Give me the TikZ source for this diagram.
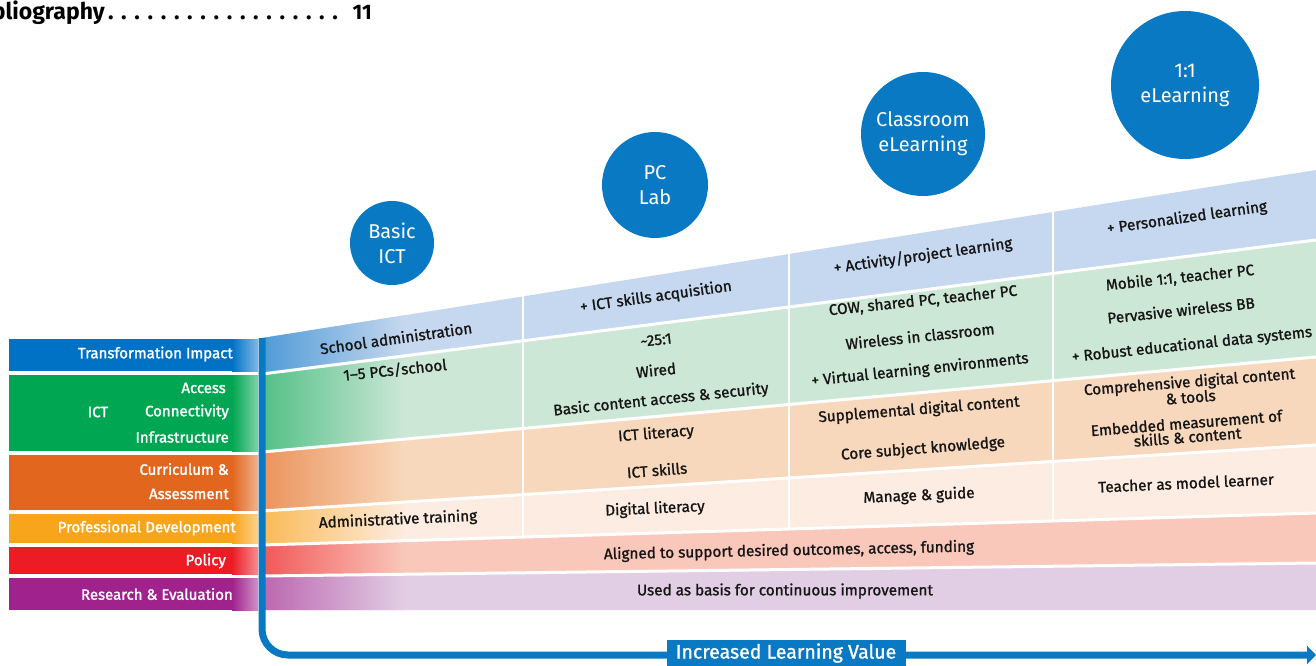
\documentclass[tikz,border=0pt]{standalone}
\usepackage{fontspec}
\setmainfont{Fira Sans}
\newfontfamily\medfont{Fira Sans}[FakeBold=1.2]
\newfontfamily\labfont{Fira Sans}[FakeBold=1.6]
\usetikzlibrary{arrows.meta}
\definecolor{tiBlue}{HTML}{0072C6}
\definecolor{ictGreen}{HTML}{00A651}
\definecolor{curOrange}{HTML}{E2661E}
\definecolor{pdAmber}{HTML}{F8A51B}
\definecolor{polRed}{HTML}{ED1C24}
\definecolor{resPurple}{HTML}{A0228D}
\definecolor{paleBlue}{HTML}{C6D8EF}
\definecolor{paleGreen}{HTML}{CDE7D7}
\definecolor{paleOrange}{HTML}{F8D8BC}
\definecolor{palePD}{HTML}{FDECE1}
\definecolor{palePol}{HTML}{F9C8BB}
\definecolor{paleRes}{HTML}{E2CEE4}
\definecolor{circBlue}{HTML}{0879C2}
\definecolor{inkText}{HTML}{151515}
\newcommand\bandfill[6]{%
  \begin{scope}
    \clip (262,#3) -- (1316,#4) -- (1316,#6) -- (262,#5) -- cycle;
    \fill[#1] (250,100) rectangle (1316,666);
    \shade[left color=#2, right color=#1] (262,100) rectangle (405,666);
  \end{scope}}
\newcommand\labelbox[3]{%
  \fill[#1] (9,#2) rectangle (258,#3);
  \shade[left color=#1, right color=#1!50!white] (232,#2) rectangle (258,#3);}
\newcommand\tocdot{\makebox[13.2pt]{.}}
\begin{document}
\begin{tikzpicture}[x=1pt,y=-1pt,
  bandtext/.style={inner sep=0pt, text=inkText, font=\medfont\fontsize{15.3}{15}\selectfont, align=center},
  leftlabel/.style={inner sep=0pt, text=white, anchor=east, font=\labfont\fontsize{15}{15}\selectfont},
  stage/.style={circle, fill=circBlue, text=white, inner sep=0pt, align=center, font=\fontsize{20}{25}\selectfont},
  axisline/.style={draw=circBlue, line width=7pt, rounded corners=26pt, -{Triangle[length=9pt,width=18pt]}},
  axislabel/.style={fill=circBlue, text=white, inner sep=0pt, minimum width=239pt, minimum height=27pt, font=\medfont\fontsize{19.5}{19}\selectfont},
  toc/.style={inner sep=0pt, font=\bfseries\fontsize{23}{23}\selectfont},
  sep/.style={draw=white, line width=3pt},
  colsep/.style={draw=white, line width=2.5pt}]
\useasboundingbox (0,0) rectangle (1316,666);

% top text
\node[toc, anchor=base east] (bib) at (105,20) {Bibliography};
\node[toc, anchor=base west] (dots) at (104,20) {\tocdot\tocdot\tocdot\tocdot\tocdot\tocdot\tocdot\tocdot\tocdot\tocdot\tocdot\tocdot\tocdot\tocdot\tocdot\tocdot\tocdot\tocdot};
\node[toc, anchor=base east, font=\bfseries\fontsize{21}{21}\selectfont] (pg) at (372,20) {11};

% bands
\bandfill{paleBlue}{tiBlue!60!paleBlue}{338}{170}{374}{240}
\bandfill{paleGreen}{ictGreen!60!paleGreen}{374}{240}{452}{357}
\bandfill{paleOrange}{curOrange!60!paleOrange}{452}{357}{511}{445}
\bandfill{palePD}{pdAmber!70!palePD}{511}{445}{545}{513}
\bandfill{palePol}{polRed!65!palePol}{545}{513}{576}{563}
\bandfill{paleRes}{resPurple!60!paleRes}{576}{563}{610}{610}

% separators
\draw[sep] (262,374) -- (1316,240);
\draw[sep] (262,452) -- (1316,357);
\draw[sep] (262,511) -- (1316,445);
\draw[sep] (262,545) -- (1316,513);
\draw[sep] (262,576) -- (1316,563);
\draw[colsep] (523,294) -- (523,537);
\draw[colsep] (789,252) -- (789,529);
\draw[colsep] (1053,210) -- (1053,521);

% left label boxes
\labelbox{tiBlue}{339}{371}
\labelbox{ictGreen}{375}{451}
\labelbox{curOrange}{455}{510}
\labelbox{pdAmber}{514}{543}
\labelbox{polRed}{547}{574}
\labelbox{resPurple}{578}{610}

\node[leftlabel] (lti) at (233,354) {Transformation Impact};
\node[inner sep=0pt, text=white, font=\labfont\fontsize{15}{15}\selectfont] (lict) at (98,412) {ICT};
\node[leftlabel] (lacc) at (226,388) {Access};
\node[leftlabel] (lcon) at (229,412) {Connectivity};
\node[leftlabel] (linf) at (229,437) {Infrastructure};
\node[leftlabel] (lcur) at (229,469) {Curriculum \&};
\node[leftlabel] (lass) at (229,494) {Assessment};
\node[leftlabel] (lpd) at (236,528) {Professional Development};
\node[leftlabel] (lpol) at (226,561) {Policy};
\node[leftlabel] (lres) at (233,594) {Research \& Evaluation};

% stage circles
\node[stage, minimum size=84pt] (c1) at (392,243) {Basic\\ICT};
\node[stage, minimum size=106pt] (c2) at (655,185) {PC\\Lab};
\node[stage, minimum size=124pt] (c3) at (923,134) {Classroom\\eLearning};
\node[stage, minimum size=148pt] (c4) at (1185,85) {1:1\\eLearning};

% blue band text
\node[bandtext, rotate=8] (b1) at (396,338) {School administration};
\node[bandtext, rotate=8] (b2) at (656,297) {+ ICT skills acquisition};
\node[bandtext, rotate=8] (b3) at (923,256) {+ Activity/project learning};
\node[bandtext, rotate=8] (b4) at (1187,218) {+ Personalized learning};

% green band text
\node[bandtext, rotate=6] (g1) at (395,370) {1–5 PCs/school};
\node[bandtext, rotate=6] (g2) at (656,340) {\textasciitilde 25:1};
\node[bandtext, rotate=6] (g3) at (656,370) {Wired};
\node[bandtext, rotate=6] (g4) at (661,400) {Basic content access \& security};
\node[bandtext, rotate=6] (g5) at (923,301) {COW, shared PC, teacher PC};
\node[bandtext, rotate=6] (g6) at (920,336) {Wireless in classroom};
\node[bandtext, rotate=6] (g7) at (920,370) {+ Virtual learning environments};
\node[bandtext, rotate=6] (g8) at (1180,278) {Mobile 1:1, teacher PC};
\node[bandtext, rotate=6] (g9) at (1181,310) {Pervasive wireless BB};
\node[bandtext, rotate=6] (g10) at (1192,345) {+ Robust educational data systems};

% orange band text
\node[bandtext, rotate=4.5] (o1) at (656,434) {ICT literacy};
\node[bandtext, rotate=4.5] (o2) at (657,470) {ICT skills};
\node[bandtext, rotate=4.5] (o3) at (919,410) {Supplemental digital content};
\node[bandtext, rotate=4.5] (o4) at (923,449) {Core subject knowledge};
\node[bandtext, rotate=4.5, font=\medfont\fontsize{15.3}{14}\selectfont] (o5) at (1190,389) {Comprehensive digital content\\\& tools};
\node[bandtext, rotate=4.5, font=\medfont\fontsize{15.3}{14}\selectfont] (o6) at (1187,430) {Embedded measurement of\\skills \& content};

% PD band text
\node[bandtext, rotate=2.6] (p1) at (398,520) {Administrative training};
\node[bandtext, rotate=2.6] (p2) at (655,509) {Digital literacy};
\node[bandtext, rotate=2.6] (p3) at (919,496) {Manage \& guide};
\node[bandtext, rotate=2.6] (p4) at (1186,483) {Teacher as model learner};

% policy / research text
\node[bandtext, rotate=1.2] (pol) at (789,551) {Aligned to support desired outcomes, access, funding};
\node[bandtext] (res) at (785,591) {Used as basis for continuous improvement};

% axis
\coordinate (axisTop) at (262,338);
\coordinate (axisEnd) at (1316,655);
\draw[axisline] (axisTop) |- (axisEnd);
\node[axislabel] (ilv) at (786,653) {Increased Learning Value};
\end{tikzpicture}
\end{document}
